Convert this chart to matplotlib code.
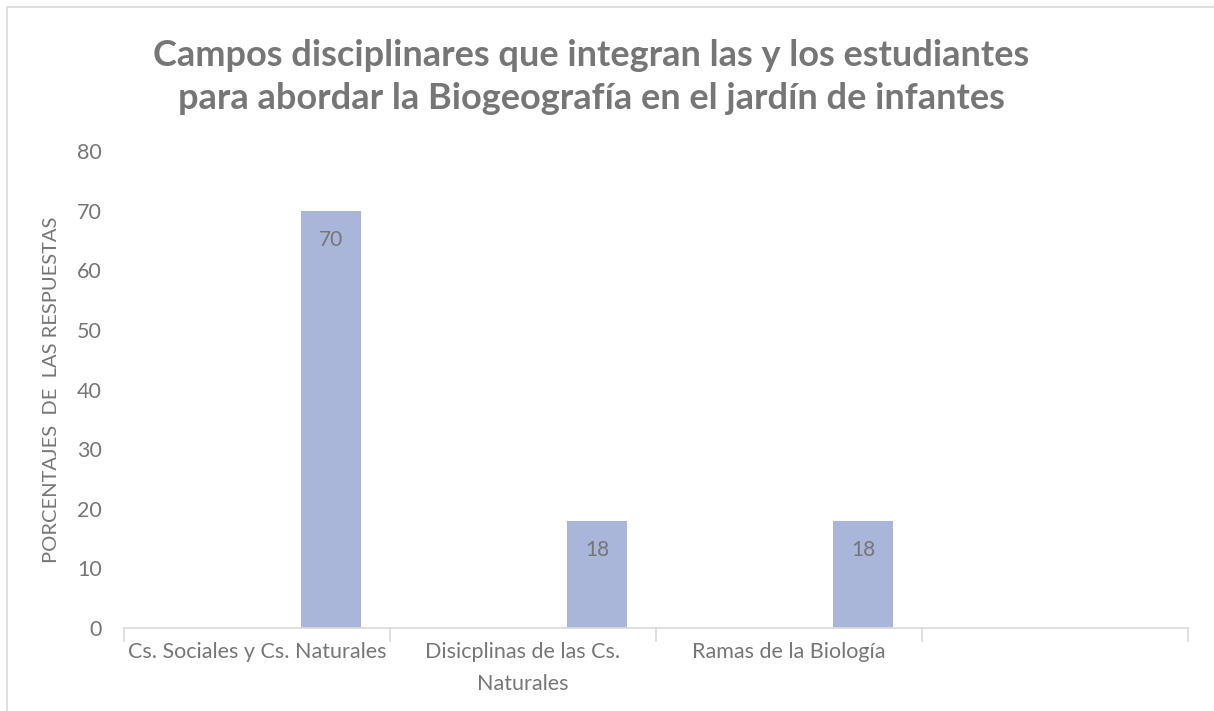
import matplotlib.pyplot as plt
from matplotlib.patches import Rectangle
import numpy as np

plt.rcParams['font.family'] = ['Lato', 'DejaVu Sans']

categorias = ['Cs. Sociales y Cs. Naturales', 'Disicplinas de las Cs.\nNaturales', 'Ramas de la Biología', '']
porcentajes = [70, 18, 18, None]
y_ticks = [0, 10, 20, 30, 40, 50, 60, 70, 80]

gris = '#767676'
color_barra = '#A9B6DA'

fig = plt.figure(figsize=(12.14, 7.11), dpi=100)
fig.patches.append(Rectangle((7 / 1214, -0.01), 1.02, 1 - 7 / 711 + 0.01, transform=fig.transFigure,
                             fill=False, edgecolor='#D9D9D9', linewidth=1.2))
ax = fig.add_axes([124 / 1214, 1 - 628 / 711, (1188 - 124) / 1214, (628 - 151) / 711])

x = np.arange(len(categorias))
offset = 0.278
ancho = 0.225
for i, v in enumerate(porcentajes):
    if v is None:
        continue
    ax.bar(x[i] + offset, v, width=ancho, color=color_barra, zorder=2)
    ax.text(x[i] + offset, v - 3.2, str(v), ha='center', va='top', fontsize=15, color=gris)

ax.set_xlim(-0.5, len(categorias) - 0.5)
ax.set_ylim(0, 80)
ax.set_yticks(y_ticks)
ax.set_xticks(x)
ax.set_xticklabels(categorias, fontsize=15.5, color=gris, linespacing=1.75)
ax.tick_params(axis='x', length=0, pad=10)
ax.tick_params(axis='y', length=0, labelsize=15.5, labelcolor=gris, pad=16)
for s in ['top', 'right', 'left']:
    ax.spines[s].set_visible(False)
ax.spines['bottom'].set_color('#D9D9D9')
ax.spines['bottom'].set_linewidth(1.2)
# separadores de categoria
for b in np.arange(-0.5, len(categorias), 1.0):
    ax.plot([b, b], [0, -2.1], color='#D9D9D9', lw=1.2, clip_on=False)

ax.set_ylabel('PORCENTAJES  DE  LAS RESPUESTAS', fontsize=14.5, color=gris, labelpad=12)

fig.suptitle('Campos disciplinares que integran las y los estudiantes\npara abordar la Biogeografía en el jardín de infantes',
             fontsize=26, fontweight='bold', color=gris, x=591 / 1214, y=0.945, linespacing=1.35)

fig.savefig('out.png', dpi=100)
